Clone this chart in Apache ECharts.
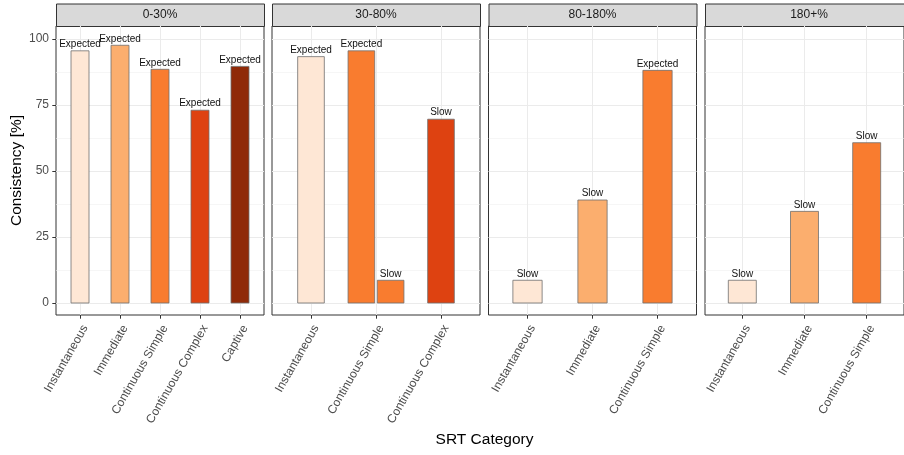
<!DOCTYPE html>
<html>
<head>
<meta charset="utf-8">
<script src="https://cdn.jsdelivr.net/npm/echarts@6/dist/echarts.min.js"></script>
<style>html,body{margin:0;padding:0;background:#fff;}#c{width:904px;height:455px;}</style>
</head>
<body>
<div id="c"></div>
<script>
// ---- data ----
const panelNames = ['0-30%', '30-80%', '80-180%', '180+%'];
const cats1 = ['Instantaneous', 'Immediate', 'Continuous Simple', 'Continuous Complex', 'Captive'];
const vals1 = [95.5, 97.6, 88.5, 73.0, 89.6];
const labs1 = ['Expected', 'Expected', 'Expected', 'Expected', 'Expected'];
const cats2 = ['Instantaneous', 'Continuous Simple', 'Continuous Simple', 'Continuous Complex'];
const vals2 = [93.3, 95.5, 8.6, 69.6];
const labs2 = ['Expected', 'Expected', 'Slow', 'Slow'];
const cats3 = ['Instantaneous', 'Immediate', 'Continuous Simple'];
const vals3 = [8.6, 39.0, 88.1];
const labs3 = ['Slow', 'Slow', 'Expected'];
const cats4 = ['Instantaneous', 'Immediate', 'Continuous Simple'];
const vals4 = [8.6, 34.7, 60.7];
const labs4 = ['Slow', 'Slow', 'Slow'];
const yTicks = [0, 25, 50, 75, 100];
const yMinorTicks = [12.5, 37.5, 62.5, 87.5];
const xTitle = 'SRT Category';
const yTitle = 'Consistency [%]';

// ---- styles ----
const catColors = {
  'Instantaneous': '#FEE7D5',
  'Immediate': '#FBAE6E',
  'Continuous Simple': '#F97C2F',
  'Continuous Complex': '#DE4211',
  'Captive': '#8F2A08'
};
const FONT = '"Liberation Sans", Arial, Helvetica, sans-serif';
const panelLeft = [56, 272, 488.5, 705];
const panelW = 208, panelTop = 26, panelH = 289;
const stripTop = 3.5;
const yMin = -4.55, yMax = 104.9;

const panels = [
  {cats: cats1, vals: vals1, labs: labs1},
  {cats: cats2, vals: vals2, labs: labs2},
  {cats: cats3, vals: vals3, labs: labs3},
  {cats: cats4, vals: vals4, labs: labs4}
];

const grids = [], xAxes = [], yAxes = [], series = [], graphics = [];

panels.forEach((p, pi) => {
  const uniq = [];
  p.cats.forEach(c => { if (uniq.indexOf(c) < 0) uniq.push(c); });
  const counts = {}; p.cats.forEach(c => counts[c] = (counts[c] || 0) + 1);
  const hasDodge = Object.keys(counts).some(k => counts[k] > 1);
  const barW = hasDodge ? 0.41 : 0.45;
  const seen = {};
  const items = p.cats.map((c, i) => {
    const n = counts[c];
    const k = seen[c] || 0; seen[c] = k + 1;
    const off = n > 1 ? (k - (n - 1) / 2) * 0.45 : 0;
    return {xi: uniq.indexOf(c), off: off, w: barW, color: catColors[c], label: p.labs[i], v: p.vals[i]};
  });

  grids.push({left: panelLeft[pi], top: panelTop, width: panelW, height: panelH,
    show: true, borderColor: '#333333', borderWidth: 1, backgroundColor: '#ffffff', containLabel: false});

  const idxs = uniq.map((_, i) => i);
  xAxes.push({
    type: 'value', gridIndex: pi, min: -0.6, max: uniq.length - 1 + 0.6, position: 'bottom',
    axisLine: {show: false, onZero: false},
    axisTick: {show: true, length: 3.7, lineStyle: {color: '#333333', width: 1}, customValues: idxs},
    axisLabel: {show: true, customValues: idxs, rotate: 60, align: 'right', verticalAlign: 'top',
      margin: 8, color: '#4D4D4D', fontSize: 12, fontFamily: FONT, hideOverlap: false,
      formatter: v => uniq[Math.round(v)] || ''},
    splitLine: {show: true, lineStyle: {color: '#EBEBEB', width: 1.07}}
  });

  yAxes.push({
    type: 'value', gridIndex: pi, min: yMin, max: yMax, position: 'left',
    axisLine: {show: false, onZero: false},
    axisTick: {show: pi === 0, length: 3.7, lineStyle: {color: '#333333', width: 1}, customValues: yTicks},
    axisLabel: {show: pi === 0, customValues: yTicks, margin: 7, color: '#4D4D4D', fontSize: 12, fontFamily: FONT},
    splitLine: {show: true, lineStyle: {color: '#EBEBEB', width: 1.07}},
    name: pi === 0 ? yTitle : '', nameLocation: 'middle', nameGap: 30, nameRotate: 90,
    nameTextStyle: {color: '#000000', fontSize: 15.5, fontFamily: FONT}
  });
  yAxes.push({
    type: 'value', gridIndex: pi, min: yMin, max: yMax, position: 'right',
    axisLine: {show: false, onZero: false}, axisLabel: {show: false},
    axisTick: {show: false, customValues: yMinorTicks},
    splitLine: {show: true, lineStyle: {color: '#F0F0F0', width: 0.6}}
  });

  series.push({
    type: 'custom', xAxisIndex: pi, yAxisIndex: pi * 2, clip: false, z: 5,
    data: items.map(it => [it.xi, it.v]),
    renderItem: (params, api) => {
      const it = items[params.dataIndex];
      const x = api.value(0) + it.off, v = api.value(1);
      const tl = api.coord([x - it.w / 2, v]);
      const br = api.coord([x + it.w / 2, 0]);
      return {type: 'group', children: [
        {type: 'rect', shape: {x: tl[0], y: tl[1], width: br[0] - tl[0], height: br[1] - tl[1]},
          style: {fill: it.color, stroke: '#707070', lineWidth: 0.8}},
        {type: 'text', x: (tl[0] + br[0]) / 2, y: tl[1] - 1.5,
          style: {text: it.label, fill: '#111111', fontSize: 10, fontFamily: FONT,
            align: 'center', verticalAlign: 'bottom'}}
      ]};
    }
  });

  graphics.push({type: 'rect', left: panelLeft[pi], top: stripTop,
    shape: {width: panelW, height: panelTop - stripTop},
    style: {fill: '#D9D9D9', stroke: '#333333', lineWidth: 1}});
  graphics.push({type: 'text', x: panelLeft[pi] + panelW / 2, y: stripTop + (panelTop - stripTop) / 2,
    style: {text: panelNames[pi], fill: '#1A1A1A', fontSize: 12, fontFamily: FONT, align: 'center', verticalAlign: 'middle'}});
});

graphics.push({type: 'text', x: panelLeft[0] + (panelLeft[3] + panelW - panelLeft[0]) / 2, y: 440,
  style: {text: xTitle, fill: '#000000', fontSize: 15.5, fontFamily: FONT, align: 'center', verticalAlign: 'middle'}});

const chart = echarts.init(document.getElementById('c'), null, {renderer: 'canvas'});
chart.setOption({
  backgroundColor: '#ffffff',
  animation: false,
  grid: grids, xAxis: xAxes, yAxis: yAxes, series: series, graphic: graphics
});
</script>
</body>
</html>
